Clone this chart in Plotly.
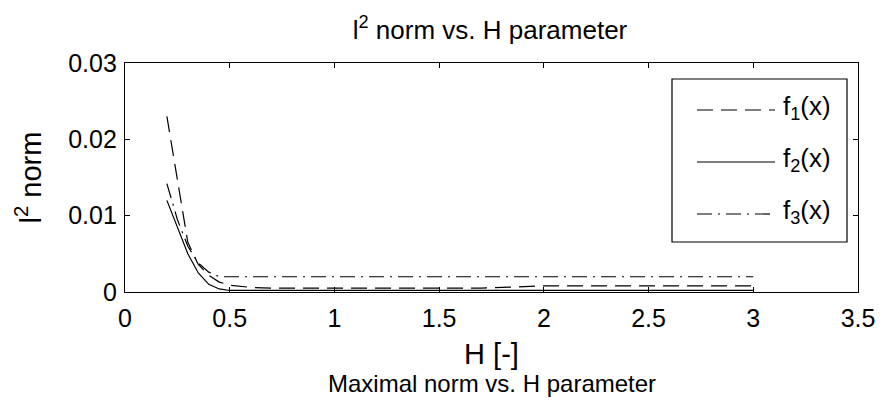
import plotly.graph_objects as go

# H parameter values
H = [0.2, 0.25, 0.3, 0.35, 0.4, 0.45, 0.5, 0.6, 0.7, 0.8, 0.9, 1.0, 1.1, 1.2, 1.3, 1.4,
     1.5, 1.6, 1.7, 1.8, 1.9, 2.0, 2.1, 2.2, 2.3, 2.4, 2.5, 2.6, 2.7, 2.8, 2.9, 3.0]

# l2 norm of the three functions
f1 = [0.023, 0.0145, 0.0065, 0.0036, 0.0022, 0.0013, 0.0009, 0.0006, 0.0005, 0.0005, 0.0005, 0.0005,
      0.0005, 0.0005, 0.0005, 0.0005, 0.0005, 0.0005, 0.0005, 0.0006, 0.0007, 0.0008, 0.0008, 0.0008,
      0.0008, 0.0008, 0.0008, 0.0008, 0.0008, 0.0008, 0.0008, 0.0008]
f2 = [0.012, 0.0085, 0.005, 0.0025, 0.001, 0.0004, 0.0002, 0.0002, 0.0002, 0.0002, 0.0002, 0.0002,
      0.0002, 0.0002, 0.0002, 0.0002, 0.0002, 0.0002, 0.0002, 0.0002, 0.0002, 0.0002, 0.0002, 0.0002,
      0.0002, 0.0002, 0.0002, 0.0002, 0.0002, 0.0002, 0.0002, 0.0002]
f3 = [0.0142, 0.0095, 0.006, 0.0038, 0.0026, 0.002, 0.002, 0.002, 0.002, 0.002, 0.002, 0.002,
      0.002, 0.002, 0.002, 0.002, 0.002, 0.002, 0.002, 0.002, 0.002, 0.002, 0.002, 0.002,
      0.002, 0.002, 0.002, 0.002, 0.002, 0.002, 0.002, 0.002]

names = ["f<sub>1</sub>(x)", "f<sub>2</sub>(x)", "f<sub>3</sub>(x)"]
dashes = ["16px,8px", "solid", "15px,6px,2px,6px"]

FONT = "Liberation Sans"
# page body has an 8px margin: figure is drawn at (8, 8)
W, HGT = 882, 395
ML, MR, MT, MB = 117, 32, 55, 111
PX0, PX1, PY0, PY1 = 8 + ML, 8 + W - MR, 8 + MT, 8 + HGT - MB  # plot area in screen px


def px2x(px):
    return (px - PX0) / (PX1 - PX0)


def py2y(py):
    return (PY1 - py) / (PY1 - PY0)


fig = go.Figure()
for ys, nm, d in zip([f1, f2, f3], names, dashes):
    fig.add_trace(go.Scatter(x=H, y=ys, mode="lines", name=nm, showlegend=False,
                             line=dict(color="black", width=1.2, dash=d)))

axis_common = dict(showline=True, linecolor="black", linewidth=1.2, mirror="ticks",
                   ticks="inside", ticklen=5, tickcolor="black", showgrid=False,
                   zeroline=False, tickfont=dict(family=FONT, size=25, color="black"))

# legend box drawn as layout decoration, entries matching trace styles
shapes = [dict(type="rect", xref="paper", yref="paper", x0=px2x(672), x1=px2x(847),
               y0=py2y(242), y1=py2y(79), line=dict(color="black", width=1.2),
               fillcolor="white", layer="above")]
annotations = []
for nm, d, ly in zip(names, dashes, [110, 162, 214]):
    shapes.append(dict(type="line", xref="paper", yref="paper", x0=px2x(697), x1=px2x(775),
                       y0=py2y(ly), y1=py2y(ly), line=dict(color="black", width=1.2, dash=d),
                       layer="above"))
    annotations.append(dict(text=nm, xref="paper", yref="paper", x=px2x(781), y=py2y(ly - 3),
                            xanchor="left", yanchor="middle", showarrow=False,
                            font=dict(size=26)))

annotations.append(dict(text="Maximal norm vs. H parameter", xref="paper", yref="paper",
                        x=px2x(492), y=py2y(383), xanchor="center", yanchor="middle",
                        showarrow=False, font=dict(size=24)))

fig.update_layout(
    width=W, height=HGT,
    margin=dict(l=ML, r=MR, t=MT, b=MB),
    paper_bgcolor="white", plot_bgcolor="white",
    font=dict(family=FONT, color="black", size=24),
    title=dict(text="l<sup>2</sup> norm vs. H parameter", x=(490 - 8) / W, xanchor="center",
               y=1 - (30 - 8) / HGT, yanchor="middle", font=dict(size=26)),
    xaxis=dict(range=[0, 3.5], dtick=0.5, ticklabelstandoff=4,
               title=dict(text="H [-]", standoff=12), **axis_common),
    yaxis=dict(range=[0, 0.03], dtick=0.01, ticklabelstandoff=2,
               title=dict(text="l<sup>2</sup> norm", standoff=18), **axis_common),
    shapes=shapes,
    annotations=annotations,
)

fig.write_html("out.html")
